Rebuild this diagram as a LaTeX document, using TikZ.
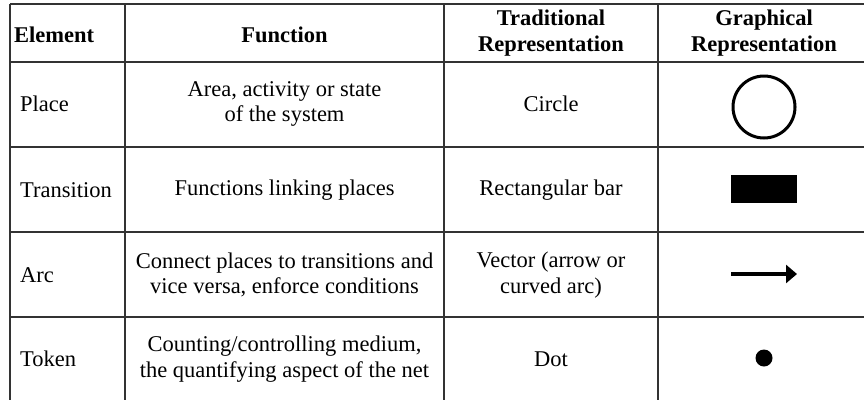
\documentclass[tikz,border=0pt]{standalone}
\usepackage{fontspec}
\setmainfont{Liberation Serif}
\usetikzlibrary{arrows.meta}
\begin{document}
\begin{tikzpicture}[x=1pt,y=-1pt,
  grid/.style={line width=1.6pt,draw=black!80},
  cell/.style={inner sep=0pt,align=center,font=\fontsize{22.5}{25.5}\selectfont},
  head/.style={cell,font=\fontsize{22.5}{25.5}\selectfont\bfseries},
  leftcell/.style={cell,anchor=west,align=left}]
\useasboundingbox (0,0) rectangle (864,400);

% table rules (open at the right and the bottom)
\foreach \yy in {4,62,147,232,317}
  \draw[grid] (10,\yy) -- (864,\yy);
\foreach \xx in {10,125,444,658}
  \draw[grid] (\xx,4) -- (\xx,400);

% header row
\node[head,anchor=west] (hElem) at (14,35) {Element};
\node[head] (hFunc) at (284.5,35) {Function};
\node[head] (hTrad) at (551,33) {Traditional\\Representation};
\node[head] (hGraph) at (764,33) {Graphical\\Representation};

% place
\node[leftcell] (ePlace) at (20,104) {Place};
\node[cell] (fPlace) at (284.5,104) {Area, activity or state\\of the system};
\node[cell] (tPlace) at (551,104) {Circle};
\node[circle,draw,line width=3pt,minimum size=62pt,inner sep=0pt] (gPlace) at (764,107) {};

% transition
\node[leftcell] (eTrans) at (20,190) {Transition};
\node[cell] (fTrans) at (284.5,190) {Functions linking places};
\node[cell] (tTrans) at (551,190) {Rectangular bar};
\node[fill=black,minimum width=66pt,minimum height=28pt,inner sep=0pt] (gTrans) at (764,189) {};

% arc
\node[leftcell] (eArc) at (20,275) {Arc};
\node[cell] (fArc) at (284.5,275) {Connect places to transitions and\\vice versa, enforce conditions};
\node[cell] (tArc) at (551,275) {Vector (arrow or\\curved arc)};
\coordinate (arcA) at (731,274);
\coordinate (arcB) at (797,274);
\draw[line width=3.8pt,-{Triangle[length=11pt,width=18pt]}] (arcA) -- (arcB);

% token
\node[leftcell] (eTok) at (20,359) {Token};
\node[cell] (fTok) at (284.5,359) {Counting/controlling medium,\\the quantifying aspect of the net};
\node[cell] (tTok) at (551,359) {Dot};
\node[circle,fill=black,minimum size=17pt,inner sep=0pt] (gTok) at (764,358) {};
\end{tikzpicture}
\end{document}
